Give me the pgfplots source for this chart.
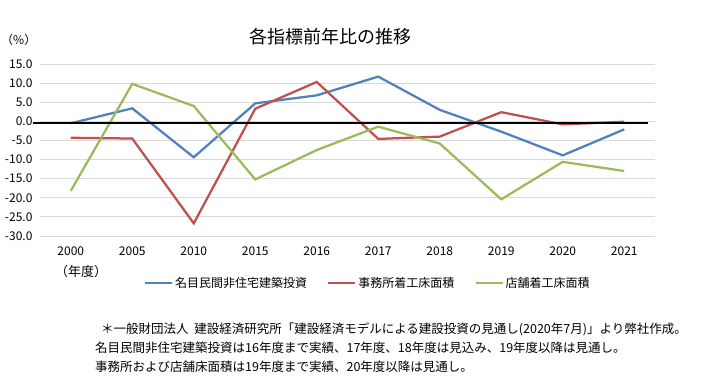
\documentclass[border=0pt]{standalone}
\usepackage{fontspec}
\setmainfont{Noto Sans CJK JP}
\usepackage{pgfplots}
\pgfplotsset{compat=1.18}
\definecolor{cblue}{HTML}{4F81BD}
\definecolor{cred}{HTML}{C0504D}
\definecolor{cgreen}{HTML}{9BBB59}
\definecolor{cgrid}{HTML}{D9D9D9}
\begin{document}
\begin{tikzpicture}[x=1pt,y=1pt]
\useasboundingbox (0,0) rectangle (701,386);
\fill[white] (0,0) rectangle (701,386);
\node[font=\fontsize{18}{20}\selectfont] at (330,349) {各指標前年比の推移};
\node[font=\fontsize{12}{14}\selectfont, anchor=west, inner sep=0pt] at (1,346) {（\%）};
\begin{axis}[
  at={(40pt,150pt)}, anchor=south west,
  width=615pt, height=172pt, scale only axis,
  xmin=-0.5, xmax=9.5, ymin=-30, ymax=15,
  clip=false,
  axis line style={draw=none},
  major tick length=0pt,
  ytick={-30,-25,...,15},
  ymajorgrids, grid style={cgrid, line width=1pt},
  xtick={0,...,9},
  xticklabels={2000,2005,2010,2015,2016,2017,2018,2019,2020,2021},
  /pgf/number format/assume math mode=true,
  yticklabel={\pgfmathprintnumber[fixed,fixed zerofill,precision=1]{\tick}},
  ticklabel style={font=\fontsize{12}{14}\selectfont},
  yticklabel style={xshift=-4pt},
  xticklabel style={yshift=-7pt},
  legend columns=3,
  legend style={draw=none, fill=none, at={(0.533,-0.275)}, anchor=center,
    font=\fontsize{12}{14}\selectfont,
    /tikz/every even column/.append style={column sep=18pt}},
  legend image code/.code={\draw[#1, line width=2.25pt] (0pt,0pt) -- (27pt,0pt);},
]
\addplot[cblue, line width=2.25pt] coordinates {
(0,-0.5) (1,3.4) (2,-9.4) (3,4.7) (4,6.8) (5,11.7) (6,3.0) (7,-2.7) (8,-8.9) (9,-2.1)};
\addlegendentry{名目民間非住宅建築投資}
\addplot[cred, line width=2.25pt] coordinates {
(0,-4.3) (1,-4.5) (2,-26.7) (3,3.3) (4,10.3) (5,-4.6) (6,-4.0) (7,2.4) (8,-0.8) (9,-0.1)};
\addlegendentry{事務所着工床面積}
\addplot[cgreen, line width=2.25pt] coordinates {
(0,-18.2) (1,9.8) (2,4.0) (3,-15.2) (4,-7.5) (5,-1.4) (6,-5.8) (7,-20.4) (8,-10.6) (9,-13.0)};
\addlegendentry{店舗着工床面積}
\addplot[black, line width=1.6pt, forget plot] coordinates {(-0.614,-0.4) (9.386,-0.4)};
\end{axis}
\node[font=\fontsize{13}{15}\selectfont] at (81,114) {（年度）};
\begin{scope}[every node/.style={anchor=west, inner sep=0pt, font=\fontsize{12.5}{14}\selectfont}]
\node at (101,57) {＊一般財団法人\ \ 建設経済研究所「建設経済モデルによる建設投資の見通し(2020年7月)」より弊社作成。};
\node at (95,38) {名目民間非住宅建築投資は16年度まで実績、17年度、18年度は見込み、19年度以降は見通し。};
\node at (95,19) {事務所および店舗床面積は19年度まで実績、20年度以降は見通し。};
\end{scope}
\end{tikzpicture}
\end{document}
